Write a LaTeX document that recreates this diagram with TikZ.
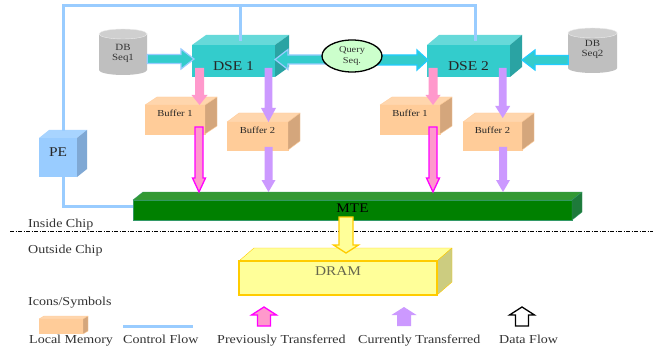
\documentclass[tikz,border=0pt]{standalone}
\usepackage{fontspec}
\setmainfont{Liberation Serif}[FakeStretch=1.15]
\usetikzlibrary{calc,shapes.geometric}
\definecolor{ctrlc}{HTML}{99CCFF}
\definecolor{dsefront}{HTML}{33CCCC}
\definecolor{dsetop}{HTML}{66D9D9}
\definecolor{dseside}{HTML}{2AA3A3}
\definecolor{buffront}{HTML}{FFCC99}
\definecolor{buftop}{HTML}{FFD6AD}
\definecolor{bufside}{HTML}{D4A67C}
\definecolor{bufedge}{HTML}{FFCC99}
\definecolor{pefront}{HTML}{99CCFF}
\definecolor{petop}{HTML}{A8D4FF}
\definecolor{peside}{HTML}{7FA8D4}
\definecolor{mtefront}{HTML}{008000}
\definecolor{mtetop}{HTML}{339933}
\definecolor{mteside}{HTML}{1E7A3A}
\definecolor{mteedge}{HTML}{339966}
\definecolor{dramfront}{HTML}{FFFF99}
\definecolor{dramside}{HTML}{CCCC80}
\definecolor{dramedge}{HTML}{FFCC00}
\definecolor{pinkc}{HTML}{FF99CC}
\definecolor{magc}{HTML}{FF00FF}
\definecolor{purc}{HTML}{CC99FF}
\definecolor{cyanedgeA}{HTML}{99CCFF}
\definecolor{cyanedgeB}{HTML}{22CCFF}
\definecolor{qfill}{HTML}{CCFFCC}
\definecolor{dbbody}{HTML}{BFBFBF}
\definecolor{dbtop}{HTML}{CFCFCF}
\definecolor{txtc}{HTML}{333333}
\definecolor{dramtxt}{HTML}{66664D}

% front face node is #1; depth (#2,#3); top colour #4; side colour #5; edge colour #6
\newcommand\cubefaces[6]{%
  \filldraw[fill=#4, draw=#6, line join=round] (#1.north west) -- ++(#2,#3) -- ([shift={(#2,#3)}]#1.north east) -- (#1.north east) -- cycle;
  \filldraw[fill=#5, draw=#6, line join=round] (#1.north east) -- ([shift={(#2,#3)}]#1.north east) -- ([shift={(#2,#3)}]#1.south east) -- (#1.south east) -- cycle;}
% vertical block arrow: style, from, tip, half shaft, half head, head length (+ down, - up)
\newcommand\varrow[6]{%
  \path[#1] let \p1=(#2), \p2=(#3) in
   ({\x2-#4},{\y1}) -- ({\x2-#4},{\y2+(#6)}) -- ({\x2-#5},{\y2+(#6)}) -- ({\x2},{\y2}) -- ({\x2+#5},{\y2+(#6)}) -- ({\x2+#4},{\y2+(#6)}) -- ({\x2+#4},{\y1}) -- cycle;}
% horizontal block arrow: style, from, tip, half shaft, half head, head length (+ right, - left)
\newcommand\harrow[6]{%
  \path[#1] let \p1=(#2), \p2=(#3) in
   ({\x1},{\y2+#4}) -- ({\x2-(#6)},{\y2+#4}) -- ({\x2-(#6)},{\y2+#5}) -- ({\x2},{\y2}) -- ({\x2-(#6)},{\y2-#5}) -- ({\x2-(#6)},{\y2-#4}) -- ({\x1},{\y2-#4}) -- cycle;}

\begin{document}
\begin{tikzpicture}[x=1pt,y=-1pt,
  front/.style={rectangle, inner sep=0pt, outer sep=0pt, anchor=north west, align=center},
  dsebox/.style={front, fill=dsefront, minimum width=83, minimum height=32,
     font=\fontsize{13.5pt}{15pt}\selectfont, text=black!85, text height=23pt, text depth=3pt},
  bufbox/.style={front, fill=buffront, draw=bufedge, font=\fontsize{9.2pt}{11pt}\selectfont,
     text=black!85, text height=7pt, text depth=12pt},
  ctrl/.style={draw=ctrlc, line width=3pt},
  cyanA/.style={fill=dsefront, draw=cyanedgeA, line width=1.2pt, line join=miter},
  cyanB/.style={fill=dsefront, draw=cyanedgeB, line width=1.2pt, line join=miter},
  pinkarr/.style={fill=pinkc},
  purarr/.style={fill=purc},
  magarr/.style={fill=pinkc, draw=magc, line width=1.3pt},
  yelarr/.style={fill=dramfront, draw=dramedge, line width=1.3pt},
  flowarr/.style={fill=white, draw=black, line width=1.3pt},
  dbtext/.style={rectangle, inner sep=0pt, minimum width=48, minimum height=40, align=center,
     font=\fontsize{9.5pt}{10pt}\selectfont, text=txtc},
  lbl/.style={inner sep=0pt, anchor=base west, text=txtc, font=\fontsize{12.2pt}{14pt}\selectfont}
]
\useasboundingbox[fill=white] (0,0) rectangle (653,350);

% ---------- databases ----------
\fill[dbbody] (99,34) -- (99,70) arc[start angle=180,end angle=360,x radius=24pt,y radius=5pt] -- (147,34) -- cycle;
\filldraw[fill=dbtop, draw=white!85!gray] (123,34) ellipse [x radius=24pt, y radius=5pt];
\node[dbtext] (db1) at (123,53) {DB\\Seq1};
\fill[dbbody] (568,33) -- (568,68) arc[start angle=180,end angle=360,x radius=24.5pt,y radius=5pt] -- (617,33) -- cycle;
\filldraw[fill=dbtop, draw=white!85!gray] (592.5,33) ellipse [x radius=24.5pt, y radius=5pt];
\node[dbtext] (db2) at (592.5,49) {DB\\Seq2};

% ---------- boxes ----------
\node[dsebox] (dse1) at (192,45) {DSE 1};
\cubefaces{dse1}{14}{-10}{dsetop}{dseside}{none}
\node[dsebox] (dse2) at (427,45) {DSE 2};
\cubefaces{dse2}{12}{-10}{dsetop}{dseside}{none}

\node[bufbox, minimum width=60, minimum height=29] (b1) at (145,105) {Buffer 1};
\cubefaces{b1}{12}{-8}{buftop}{bufside}{bufedge}
\node[bufbox, minimum width=61, minimum height=28] (b2) at (227,122) {Buffer 2};
\cubefaces{b2}{12}{-9}{buftop}{bufside}{bufedge}
\node[bufbox, minimum width=60, minimum height=29] (b3) at (380,105) {Buffer 1};
\cubefaces{b3}{12}{-8}{buftop}{bufside}{bufedge}
\node[bufbox, minimum width=59, minimum height=28] (b4) at (463,122) {Buffer 2};
\cubefaces{b4}{12}{-9}{buftop}{bufside}{bufedge}

\node[front, fill=pefront, minimum width=38, minimum height=39, font=\fontsize{13.4pt}{15pt}\selectfont,
  text=black!85, text height=9pt, text depth=11.4pt] (pe) at (39,138) {PE};
\cubefaces{pe}{10}{-8}{petop}{peside}{none}

\node[front, fill=mtefront, draw=mteedge, minimum width=439, minimum height=20,
  font=\fontsize{13.2pt}{15pt}\selectfont, text=black, text height=9pt, text depth=4.4pt] (mte) at (133,200) {MTE};
\cubefaces{mte}{10}{-8}{mtetop}{mteside}{mteedge}

\node[front, fill=dramfront, draw=dramedge, line width=1.3pt, minimum width=198, minimum height=34,
  font=\fontsize{13.3pt}{15pt}\selectfont, text=dramtxt, text height=9pt, text depth=14.4pt] (dram) at (239,261) {DRAM};
\cubefaces{dram}{15}{-13}{dramfront}{dramside}{dramedge}
\path[draw=dramedge, line width=1.3pt] (dram.north west) rectangle (dram.south east);

% ---------- control flow ----------
\coordinate (ytop) at (0,6);
\coordinate (pet) at ([xshift=24pt,yshift=7pt]pe.north west);
\coordinate (d1t) at ([xshift=48pt,yshift=4pt]dse1.north west);
\coordinate (d2t) at ([xshift=48pt,yshift=4pt]dse2.north west);
\draw[ctrl] (pet) -- (pet |- ytop) -- (d2t |- ytop) -- (d2t);
\draw[ctrl] (d1t |- ytop) -- (d1t);
\draw[ctrl] ([xshift=24pt]pe.south west) |- ([yshift=4pt]mte.west);

% query sequence node (filled again after the arrows)
\node[ellipse, minimum width=60, minimum height=32, inner sep=0pt] (q) at (352,56) {};

% ---------- data arrows ----------
\harrow{cyanA}{db1.east}{[xshift=2pt,yshift=2pt]dse1.west}{4.5pt}{10pt}{13pt}
\harrow{cyanA}{[xshift=5pt]q.west}{[yshift=1.5pt]dse1.east}{4.5pt}{10pt}{-13pt}
\harrow{cyanB}{[xshift=-5pt]q.east}{[xshift=1pt,yshift=1pt]dse2.west}{5pt}{10pt}{11pt}
\harrow{cyanB}{db2.west}{[xshift=12pt,yshift=1pt]dse2.east}{4.5pt}{10pt}{-13pt}

\varrow{pinkarr}{[yshift=9pt]dse1.south}{[xshift=54.5pt]b1.north west}{4.5pt}{8pt}{10pt}
\varrow{purarr}{[yshift=9pt]dse1.south}{[xshift=41.5pt]b2.north west}{3.8pt}{7.5pt}{14pt}
\varrow{pinkarr}{[yshift=9pt]dse2.south}{[xshift=53pt]b3.north west}{4.5pt}{7.5pt}{10pt}
\varrow{purarr}{[yshift=9pt]dse2.south}{[xshift=39.7pt,yshift=4pt]b4.north west}{3.8pt}{7.5pt}{12pt}

\varrow{magarr}{[yshift=7pt]b1.south}{[xshift=66pt,yshift=8pt]mte.north west}{4pt}{6.5pt}{14pt}
\varrow{purarr}{[yshift=3pt]b2.south}{[xshift=135.5pt,yshift=8pt]mte.north west}{4pt}{7pt}{12pt}
\varrow{magarr}{[yshift=7pt]b3.south}{[xshift=300pt,yshift=8pt]mte.north west}{4pt}{6.5pt}{14pt}
\varrow{purarr}{[yshift=3pt]b4.south}{[xshift=370pt,yshift=8pt]mte.north west}{4pt}{7pt}{12pt}

\path[draw=black, line width=1.3pt, fill=qfill] (q.center) ellipse [x radius=30pt, y radius=16pt];
\node[align=center, inner sep=0pt, font=\fontsize{9pt}{10.5pt}\selectfont, text=txtc] (qt) at (q.center) {Query\\Seq.};

% ---------- chip boundary ----------
\coordinate (dl) at (10,231);
\coordinate (dr) at (653,231);
\draw[line width=1pt, dash pattern=on 4pt off 1.5pt on 1pt off 1.5pt] (dl) -- (dr);
\varrow{yelarr}{[yshift=3pt]mte.south}{[xshift=107pt,yshift=8pt]dram.north west}{7pt}{12.5pt}{8pt}

\node[lbl] (tin) at (28,227) {Inside Chip};
\node[lbl] (tout) at (28,253) {Outside Chip};
\node[lbl] (ticon) at (28,305) {Icons/Symbols};

% ---------- legend ----------
\node[front, fill=buffront, minimum width=44, minimum height=15] (lm) at (39,319) {};
\cubefaces{lm}{5}{-3}{buftop}{bufside}{buffront}
\coordinate (cfl) at (123,326);
\coordinate (cfr) at (193,326);
\draw[ctrl] (cfl) -- (cfr);
\varrow{magarr}{264,326}{264,307}{6.5pt}{12.5pt}{-8pt}
\varrow{purarr}{404,326}{404,307}{7pt}{12.5pt}{-8pt}
\varrow{flowarr}{522,326}{522,307}{6.5pt}{12.5pt}{-8pt}

\node[lbl] (l1) at (29,343) {Local Memory};
\node[lbl] (l2) at (123,343) {Control Flow};
\node[lbl] (l3) at (217,343) {Previously Transferred};
\node[lbl] (l4) at (358,343) {Currently Transferred};
\node[lbl] (l5) at (499,343) {Data Flow};
\end{tikzpicture}
\end{document}
